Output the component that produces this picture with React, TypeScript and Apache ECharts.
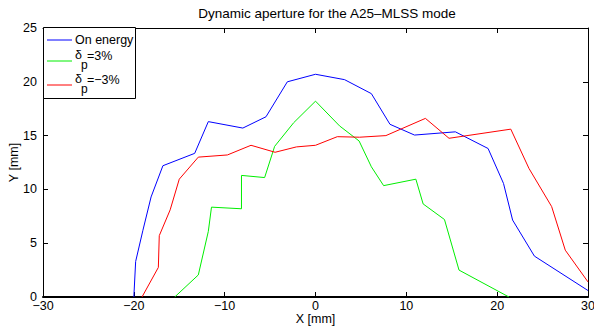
import React, { useEffect, useRef } from "react";
import * as echarts from "echarts";

const onEnergyX = [-20.0, -19.8, -19.0, -18.1, -16.8, -13.3, -11.8, -8.0, -5.45, -3.1, 0, 3.2, 6.15, 8.2, 10.9, 15.4, 19.0, 20.7, 21.7, 24.1, 30];
const onEnergyY = [0, 3.3, 6.2, 9.3, 12.2, 13.35, 16.3, 15.7, 16.75, 20.0, 20.7, 20.2, 18.9, 16.05, 15.05, 15.35, 13.8, 10.55, 7.15, 3.8, 0.6];

const plusX = [-15.5, -12.9, -11.8, -11.45, -8.15, -8.15, -5.6, -4.5, -2.4, 0, 2.65, 4.8, 6.15, 7.5, 11.05, 11.85, 14.2, 15.8, 21.3];
const plusY = [0, 2.05, 6.1, 8.35, 8.2, 11.3, 11.1, 14.0, 16.2, 18.2, 15.9, 14.5, 12.1, 10.35, 10.95, 8.65, 7.2, 2.5, 0];

const minusX = [-19.1, -17.3, -17.2, -16.0, -15.0, -12.9, -9.7, -7.1, -4.45, -2.1, 0, 2.4, 4.85, 7.75, 12.1, 14.7, 21.5, 23.5, 26.0, 27.5, 30];
const minusY = [0, 2.75, 5.7, 8.1, 10.95, 13.0, 13.2, 14.1, 13.45, 13.95, 14.1, 14.9, 14.85, 15.0, 16.6, 14.75, 15.6, 11.95, 8.4, 4.35, 1.4];

const title = "Dynamic aperture for the A25\u2013MLSS mode";
const xName = "X [mm]";
const yName = "Y [mm]";
const legendNames = ["On energy", "=3%", "=\u22123%"];

const FONT = "'Liberation Sans', Arial, Helvetica, sans-serif";
const BLUE = "#0000ff";
const GREEN = "#00ee00";
const RED = "#ff0000";
const FS = 12.5;

function pairs(xs: number[], ys: number[]) {
  return xs.map((x, i) => [x, ys[i]]);
}

export default function App() {
  const ref = useRef<HTMLDivElement>(null);
  useEffect(() => {
    if (!ref.current) return;
    const chart = echarts.init(ref.current, undefined, { renderer: "svg" });
    const fmt = (v: number) => String(v).replace("-", "\u2212");
    const tick = { show: true, inside: true, length: 5, lineStyle: { color: "#000", width: 1 } };
    const lineSeries = (name: string, data: number[][], color: string) => ({
      name,
      type: "line",
      data,
      symbol: "none",
      lineStyle: { color, width: 1 },
      itemStyle: { color },
      clip: true,
      z: 2,
    });
    const txt = (x: number, y: number, text: string, size = FS) => ({
      type: "text",
      x,
      y,
      z: 101,
      style: { text, fontSize: size, fontFamily: FONT, fill: "#000", verticalAlign: "middle" },
    });
    const seg = (y: number, color: string) => ({
      type: "line",
      z: 101,
      shape: { x1: 47, y1: y, x2: 72, y2: y },
      style: { stroke: color, lineWidth: 1 },
    });
    chart.setOption({
      animation: false,
      backgroundColor: "#fff",
      textStyle: { fontFamily: FONT },
      title: {
        text: title,
        left: 322,
        textAlign: "center",
        top: 1,
        textStyle: { fontSize: 13.5, fontWeight: "normal", color: "#000", fontFamily: FONT },
      },
      grid: { left: 43, right: 6, top: 28, bottom: 31, containLabel: false, outerBoundsMode: "none" },
      xAxis: [
        {
          type: "value",
          min: -30,
          max: 30,
          interval: 10,
          position: "bottom",
          splitLine: { show: false },
          axisTick: tick,
          axisLine: { show: true, onZero: false, lineStyle: { color: "#000", width: 2 } },
          axisLabel: { color: "#000", fontSize: FS, lineHeight: 9, margin: 4, formatter: fmt, fontFamily: FONT, hideOverlap: false },
          name: xName,
          nameLocation: "middle",
          nameGap: 15,
          nameMoveOverlap: false,
          nameTextStyle: { color: "#000", fontSize: FS, fontFamily: FONT },
        },
        {
          type: "value",
          min: -30,
          max: 30,
          interval: 10,
          position: "top",
          splitLine: { show: false },
          axisTick: tick,
          axisLine: { show: true, onZero: false, lineStyle: { color: "#000", width: 1 } },
          axisLabel: { show: false },
        },
      ],
      yAxis: [
        {
          type: "value",
          min: 0,
          max: 25,
          interval: 5,
          position: "left",
          splitLine: { show: false },
          axisTick: tick,
          axisLine: { show: true, onZero: false, lineStyle: { color: "#000", width: 1 } },
          axisLabel: { color: "#000", fontSize: FS, lineHeight: 9, margin: 6, fontFamily: FONT, hideOverlap: false },
          name: yName,
          nameLocation: "middle",
          nameGap: 23,
          nameMoveOverlap: false,
          nameTextStyle: { color: "#000", fontSize: FS, fontFamily: FONT },
        },
        {
          type: "value",
          min: 0,
          max: 25,
          interval: 5,
          position: "right",
          splitLine: { show: false },
          axisTick: tick,
          axisLine: { show: true, onZero: false, lineStyle: { color: "#000", width: 1 } },
          axisLabel: { show: false },
        },
      ],
      series: [
        lineSeries(legendNames[0], pairs(onEnergyX, onEnergyY), BLUE),
        lineSeries("dp+3", pairs(plusX, plusY), GREEN),
        lineSeries("dp-3", pairs(minusX, minusY), RED),
      ],
      graphic: [
        {
          type: "rect",
          z: 100,
          shape: { x: 43.5, y: 27.5, width: 92, height: 71 },
          style: { fill: "#fff", stroke: "#000", lineWidth: 1 },
        },
        seg(40, BLUE),
        txt(75, 40, legendNames[0]),
        seg(61, GREEN),
        txt(75, 55, "\u03b4"),
        txt(81, 65, "p", 12),
        txt(87, 56, legendNames[1]),
        seg(85, RED),
        txt(75, 79, "\u03b4"),
        txt(81, 89, "p", 12),
        txt(87, 80, legendNames[2]),
      ],
    });
    return () => chart.dispose();
  }, []);
  return <div ref={ref} style={{ width: 594, height: 328, position: "absolute", left: 0, top: 0 }} />;
}
